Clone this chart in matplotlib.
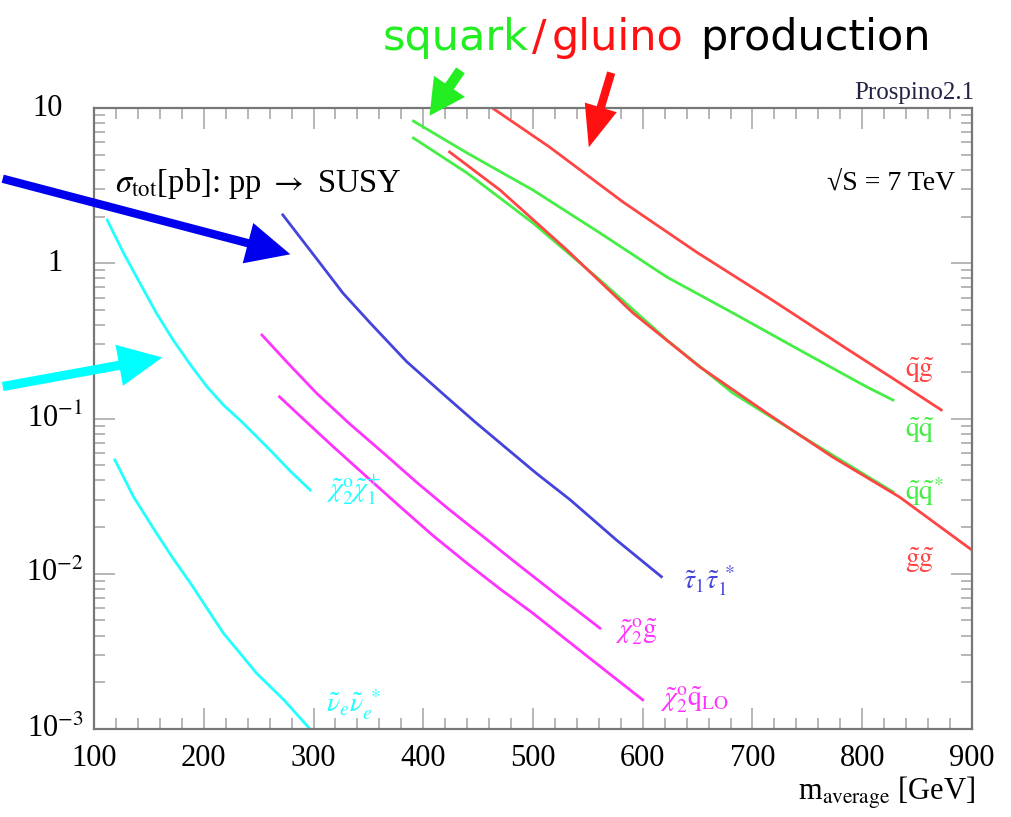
import matplotlib
matplotlib.use('Agg')
import matplotlib.pyplot as plt
from matplotlib.patches import FancyArrowPatch
from matplotlib.ticker import MultipleLocator, LogLocator, NullFormatter

plt.rcParams['mathtext.fontset'] = 'stix'
plt.rcParams['font.family'] = ['Liberation Serif', 'DejaVu Serif']

# cross sections (mass in GeV, sigma in pb)
m_n2c1 = [112, 127, 142, 157, 172, 188, 203, 218, 233, 248, 263, 279, 297]
s_n2c1 = [1.90, 1.16, 0.741, 0.475, 0.321, 0.221, 0.160, 0.122, 0.0977, 0.0767, 0.0600, 0.0457, 0.0346]

m_snu = [119, 136, 157, 172, 188, 203, 218, 233, 248, 273, 299]
s_snu = [0.0541, 0.0313, 0.0182, 0.01256, 0.00867, 0.00598, 0.00413, 0.00308, 0.00229, 0.00154, 0.00096]

m_stau = [272, 306, 327, 352, 385, 421, 447, 473, 503, 534, 576, 617]
s_stau = [2.05, 1.0, 0.640, 0.410, 0.232, 0.138, 0.0953, 0.0668, 0.0444, 0.0299, 0.0165, 0.00957]

m_n2g = [253, 276, 303, 333, 364, 394, 424, 455, 485, 523, 561]
s_n2g = [0.345, 0.230, 0.145, 0.0923, 0.0597, 0.0388, 0.0258, 0.01726, 0.01167, 0.00719, 0.00446]

m_n2q = [269, 294, 318, 349, 379, 409, 440, 470, 500, 550, 600]
s_n2q = [0.138, 0.0944, 0.0658, 0.0418, 0.0270, 0.01758, 0.01167, 0.00798, 0.00556, 0.00292, 0.00154]

m_qq = [391, 440, 500, 561, 622, 682, 743, 804, 828]
s_qq = [8.24, 5.13, 2.96, 1.567, 0.815, 0.479, 0.276, 0.160, 0.1315]

m_qqbar = [391, 440, 500, 561, 622, 682, 743, 804, 828]
s_qqbar = [6.41, 3.81, 1.816, 0.780, 0.321, 0.146, 0.0783, 0.0427, 0.0337]

m_gg = [424, 470, 531, 591, 652, 713, 773, 834, 900]
s_gg = [5.21, 2.96, 1.216, 0.479, 0.215, 0.1084, 0.0565, 0.0312, 0.0142]

m_qg = [463, 515, 582, 649, 718, 785, 834, 872]
s_qg = [10.0, 5.61, 2.48, 1.180, 0.579, 0.284, 0.170, 0.1135]

CYAN = '#22ffff'
BLUE = '#4444dd'
MAG = '#ff33ff'
GREEN = '#44ee44'
RED = '#ff4444'

fig = plt.figure(figsize=(10.11, 8.17), dpi=100)
ax = fig.add_axes([0.093, 0.1077, 0.8684, 0.7601])

lw = 2.0
ax.plot(m_n2c1, s_n2c1, color=CYAN, lw=lw)
ax.plot(m_snu, s_snu, color=CYAN, lw=lw)
ax.plot(m_stau, s_stau, color=BLUE, lw=lw)
ax.plot(m_n2g, s_n2g, color=MAG, lw=lw)
ax.plot(m_n2q, s_n2q, color=MAG, lw=lw)
ax.plot(m_qq, s_qq, color=GREEN, lw=lw)
ax.plot(m_qqbar, s_qqbar, color=GREEN, lw=lw)
ax.plot(m_gg, s_gg, color=RED, lw=lw)
ax.plot(m_qg, s_qg, color=RED, lw=lw)

ax.set_yscale('log')
ax.set_xlim(100, 900)
ax.set_ylim(1e-3, 10)

# ROOT-like frame and ticks
for sp in ax.spines.values():
    sp.set_color('#777777')
    sp.set_linewidth(1.6)
ax.xaxis.set_major_locator(MultipleLocator(100))
ax.xaxis.set_minor_locator(MultipleLocator(20))
ax.yaxis.set_major_locator(LogLocator(base=10))
ax.yaxis.set_minor_locator(LogLocator(base=10, subs=range(2, 10)))
ax.yaxis.set_minor_formatter(NullFormatter())
ax.tick_params(which='both', direction='in', top=True, right=True, color='#aaaaaa', width=1.2)
ax.tick_params(which='major', length=15)
ax.tick_params(which='minor', length=8)
ax.tick_params(axis='x', labelsize=22, pad=11)
ax.tick_params(axis='y', labelleft=False)

ytick_vals = [10, 1, 0.1, 0.01, 0.001]
ytick_txt = ['10', '1', '10$^{-1}$', '10$^{-2}$', '10$^{-3}$']
ytick_off = [-0.036, -0.036, -0.012, -0.012, -0.012]
ytr = ax.get_yaxis_transform()
for v, t, o in zip(ytick_vals, ytick_txt, ytick_off):
    ax.text(o, v, t, transform=ytr, ha='right', va='center', fontsize=22)

# texts inside the frame
ax.text(0.024, 0.879, r'$\sigma_{\rm tot}$[pb]: pp $\rightarrow$ SUSY', transform=ax.transAxes,
        ha='left', va='center', fontsize=23.5)
ax.text(0.981, 0.879, '\u221aS = 7 TeV', transform=ax.transAxes,
        ha='right', va='center', fontsize=20)
ax.text(1.003, 1.006, 'Prospino2.1', transform=ax.transAxes, ha='right', va='bottom',
        fontsize=18, color='#222244')

lab = dict(ha='left', va='center', fontsize=20)
ax.text(839, 0.205, r'$\tilde{\rm q}\tilde{\rm g}$', color=RED, **lab)
ax.text(839, 0.0843, r'$\tilde{\rm q}\tilde{\rm q}$', color=GREEN, **lab)
ax.text(839, 0.0336, r'$\tilde{\rm q}\tilde{\rm q}^{*}$', color=GREEN, **lab)
ax.text(839, 0.0123, r'$\tilde{\rm g}\tilde{\rm g}$', color=RED, **lab)
ax.text(637, 0.0091, r'$\tilde{\tau}_1\tilde{\tau}_1^{\ *}$', color=BLUE, **lab)
ax.text(575, 0.00422, r'$\tilde{\chi}^{\rm o}_2\tilde{\rm g}$', color=MAG, **lab)
ax.text(616, 0.00154, r'$\tilde{\chi}^{\rm o}_2\tilde{\rm q}_{\rm LO}$', color=MAG, **lab)
ax.text(311, 0.0347, r'$\tilde{\chi}^{\rm o}_2\tilde{\chi}^{+}_1$', color=CYAN, **lab)
ax.text(311, 0.00143, r'$\tilde{\nu}_e\tilde{\nu}_e^{\ *}$', color=CYAN, **lab)

fig.text(975 / 1011, 1 - 800 / 817, r'm$_{\rm average}$ [GeV]', ha='right', va='baseline', fontsize=22)

# hand-drawn annotation on top
def px(x, y):
    return (x / 1011, 1 - y / 817)

head = dict(ha='left', va='baseline', fontsize=31, family='DejaVu Sans')
fig.text(*px(383, 50), 'squark', color='#22ee22', **head)
fig.text(*px(532, 50), '/', color='#ff1111', **head)
fig.text(*px(552, 50), 'gluino', color='#ff1111', **head)
fig.text(*px(700, 50), 'production', color='black', **head)


def arrow(p0, p1, color, tail, hw, hl):
    a = FancyArrowPatch(px(*p0), px(*p1), transform=fig.transFigure,
                        arrowstyle='simple,head_length=%g,head_width=%g,tail_width=%g' % (hl, hw, tail),
                        mutation_scale=30, color=color, lw=0)
    fig.add_artist(a)


arrow((0, 178), (293, 255), '#0000ee', 0.2, 1.0, 1.05)
arrow((0, 387), (165, 357), '#00ffff', 0.22, 1.0, 1.05)
arrow((462, 68), (428, 118), '#22ee22', 0.25, 0.9, 0.85)
arrow((612, 70), (588, 150), '#ff1111', 0.2, 0.8, 1.0)

fig.savefig('out.png', dpi=100)
